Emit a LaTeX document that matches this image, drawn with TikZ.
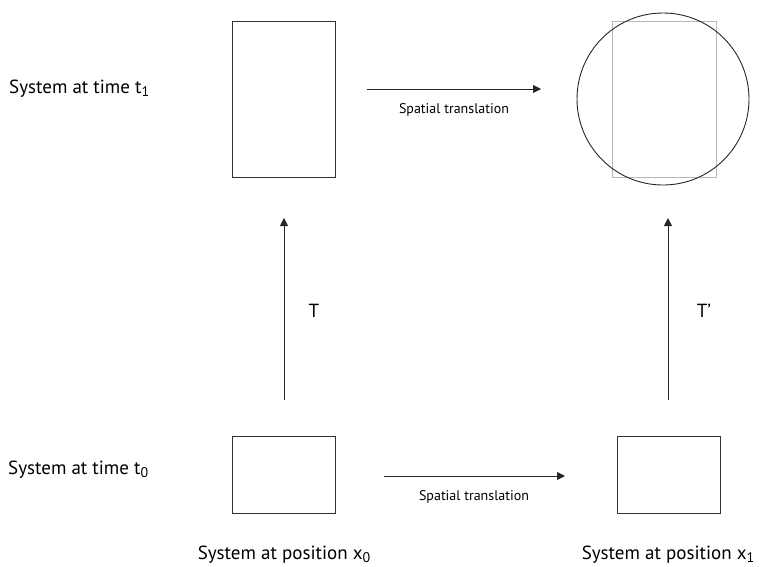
\documentclass[tikz,border=0pt]{standalone}
\usepackage{fontspec}
\setmainfont{PT Sans}
\usetikzlibrary{arrows.meta}
\newcommand{\sbs}[1]{\raisebox{-0.3ex}{\fontsize{14}{16}\selectfont #1}}
\begin{document}
\begin{tikzpicture}[x=1pt,y=-1pt,
  sysbox/.style={draw=black!80,line width=0.9pt,inner sep=0pt,minimum width=103pt},
  ghost/.style={draw=black!28,line width=1pt,inner sep=0pt,minimum width=104pt,minimum height=156pt},
  arr/.style={draw=black!85,line width=0.9pt,-{Triangle[length=8pt,width=8pt]}},
  big/.style={font=\fontsize{19}{22}\selectfont,inner sep=0pt},
  small/.style={font=\fontsize{14}{16}\selectfont,inner sep=0pt}]
\useasboundingbox (0,0) rectangle (763,566);
% boxes
\node[sysbox,minimum height=156pt] (tl) at (283.5,99) {};
\node[ghost] (trg) at (664,99) {};
\node[draw=black!85,line width=0.9pt,circle,minimum size=172pt,inner sep=0pt] (trc) at (663,99) {};
\node[sysbox,minimum height=77pt] (bl) at (283.5,474.5) {};
\node[sysbox,minimum height=77pt] (br) at (668.5,474.5) {};
% arrow anchor coordinates
\coordinate (a1s) at (367,89);
\coordinate (a1e) at (541,89);
\coordinate (a2s) at (384,476);
\coordinate (a2e) at (565,476);
\coordinate (v1s) at (284,400);
\coordinate (v1e) at (284,218);
\coordinate (v2s) at (668,400);
\coordinate (v2e) at (668,218);
\draw[arr] (a1s) -- (a1e);
\draw[arr] (a2s) -- (a2e);
\draw[arr] (v1s) -- (v1e);
\draw[arr] (v2s) -- (v2e);
% labels
\node[small] (lt) at (454,110) {Spatial translation};
\node[small] (lb) at (474,497) {Spatial translation};
\node[big] (T) at (314,311) {T};
\node[big] (Tp) at (704,311) {T’};
\node[big,anchor=west] (st1) at (9,89) {System at time t\sbs{1}};
\node[big,anchor=west] (st0) at (8,470) {System at time t\sbs{0}};
\node[big] (px0) at (284,555) {System at position x\sbs{0}};
\node[big] (px1) at (668,555) {System at position x\sbs{1}};
\end{tikzpicture}
\end{document}
